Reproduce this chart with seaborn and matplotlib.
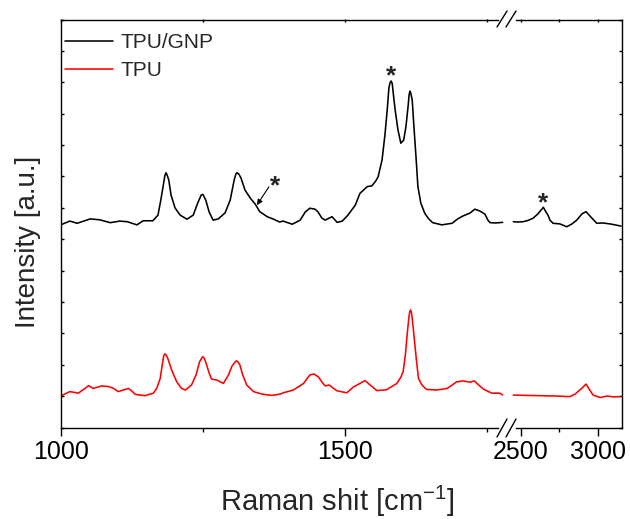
import numpy as np
import pandas as pd
import matplotlib
matplotlib.use("Agg")
import matplotlib.pyplot as plt
import seaborn as sns
from matplotlib.lines import Line2D

# ---------------- data ----------------
gnp_left_x = [1000, 1016, 1029, 1052, 1069, 1087, 1104, 1117, 1134, 1145,
              1162, 1171, 1176, 1181, 1183, 1185, 1187, 1190, 1194, 1201, 1210, 1222,
              1233, 1241, 1247, 1250, 1255, 1261, 1268, 1277, 1289, 1298,
              1305, 1308, 1310, 1313, 1317, 1324, 1333, 1342, 1350, 1363, 1373, 1385,
              1391, 1407, 1421, 1430, 1438, 1447, 1452, 1459, 1465, 1477,
              1486, 1495, 1505, 1518, 1526, 1539, 1547, 1554, 1558, 1565,
              1570, 1574, 1577, 1579, 1581, 1583, 1584, 1588, 1593, 1598, 1603, 1607,
              1611, 1612.5, 1614, 1615.5, 1618, 1621, 1625, 1628, 1633, 1640, 1647, 1654,
              1670, 1688, 1698, 1707, 1720, 1728, 1737, 1746, 1751, 1755,
              1765, 1777]
gnp_left_y = [6.46, 6.58, 6.51, 6.65, 6.62, 6.53, 6.58, 6.56, 6.46, 6.59,
              6.59, 6.77, 7.25, 7.79, 8.02, 8.12, 8.05, 7.89, 7.41, 7.00, 6.77, 6.64,
              6.77, 7.16, 7.41, 7.43, 7.25, 6.87, 6.61, 6.65, 6.84, 7.25,
              7.89, 8.08, 8.12, 8.08, 7.95, 7.57, 7.32, 7.12, 6.88, 6.72, 6.65, 6.55,
              6.58, 6.48, 6.61, 6.87, 6.99, 6.96, 6.88, 6.68, 6.61, 6.72,
              6.54, 6.58, 6.77, 7.09, 7.46, 7.68, 7.70, 7.86, 7.99, 8.53,
              9.32, 10.11, 10.82, 10.98, 11.04, 10.95, 10.76, 10.12, 9.48, 9.06, 9.16, 9.59,
              10.28, 10.6, 10.72, 10.65, 10.44, 9.59, 8.53, 7.68, 7.16, 6.83, 6.65, 6.53,
              6.46, 6.51, 6.65, 6.74, 6.84, 6.96, 6.90, 6.80, 6.61, 6.53,
              6.52, 6.54]
gnp_right_x = [2452, 2482, 2515, 2547, 2580, 2612, 2632, 2647, 2664, 2677,
               2690, 2710, 2755, 2799, 2833, 2864, 2898, 2924, 2950, 2994,
               3034, 3080, 3112, 3152]
gnp_right_y = [6.56, 6.55, 6.56, 6.60, 6.67, 6.81, 6.93, 7.02, 6.87, 6.77,
               6.61, 6.51, 6.49, 6.40, 6.49, 6.61, 6.81, 6.88, 6.74, 6.51,
               6.52, 6.49, 6.46, 6.42]

tpu_left_x = [1000, 1016, 1031, 1041, 1049, 1057, 1072, 1084, 1092, 1101,
              1110, 1119, 1125, 1131, 1148, 1163, 1169, 1175, 1179, 1181, 1183, 1185,
              1188, 1195, 1204, 1212, 1219, 1230, 1238, 1244, 1248, 1250, 1252, 1255,
              1261, 1265, 1274, 1286, 1295, 1301, 1307, 1309, 1311, 1315, 1320, 1327,
              1339, 1356, 1371, 1386, 1391, 1409, 1427, 1438, 1445, 1453,
              1459, 1465, 1472, 1485, 1503, 1514, 1524, 1535, 1544, 1556,
              1573, 1591, 1598, 1602, 1606, 1609, 1612, 1613.5, 1615, 1616.5, 1618, 1621,
              1625, 1629, 1635, 1643, 1661, 1679, 1686, 1696, 1707, 1720,
              1727, 1735, 1743, 1758, 1772, 1777]
tpu_left_y = [1.01, 1.15, 1.10, 1.23, 1.34, 1.25, 1.33, 1.31, 1.26, 1.15,
              1.20, 1.25, 1.17, 1.06, 1.02, 1.10, 1.26, 1.57, 2.06, 2.28, 2.35, 2.32,
              2.22, 1.84, 1.46, 1.26, 1.20, 1.36, 1.68, 2.09, 2.22, 2.26, 2.22, 2.09,
              1.74, 1.55, 1.52, 1.41, 1.68, 1.96, 2.10, 2.13, 2.11, 2.00, 1.68, 1.36,
              1.15, 1.06, 1.03, 1.07, 1.11, 1.20, 1.41, 1.68, 1.71, 1.62,
              1.46, 1.33, 1.36, 1.18, 1.11, 1.29, 1.39, 1.50, 1.36, 1.18,
              1.21, 1.41, 1.61, 1.78, 2.32, 2.95, 3.49, 3.68, 3.75, 3.68, 3.49, 2.95,
              2.22, 1.57, 1.36, 1.22, 1.20, 1.25, 1.33, 1.46, 1.49, 1.45,
              1.49, 1.36, 1.23, 1.10, 1.10, 1.04]
tpu_right_x = [2452, 2528, 2625, 2723, 2820, 2853, 2872, 2898, 2924, 2944,
               2970, 3016, 3061, 3100, 3145]
tpu_right_y = [1.04, 1.03, 1.02, 1.01, 0.99, 1.07, 1.15, 1.26, 1.39, 1.23,
               1.04, 0.96, 1.01, 0.98, 0.99]

series_labels = ["TPU/GNP", "TPU"]
series_colors = ["black", "#ff0000"]
left_major = [1000, 1500]
left_minor = [1250, 1750]
right_major = [2500, 3000]
right_minor = [2750]
star_x = [1581, 1377, 2647]
star_y = [10.98, 7.47, 6.93]

# ---------------- style ----------------
sns.set_theme(style="ticks")
plt.rcParams["font.family"] = ["Liberation Sans", "DejaVu Sans"]
plt.rcParams["mathtext.default"] = "regular"
plt.rcParams["axes.edgecolor"] = "black"
plt.rcParams["xtick.color"] = "black"
plt.rcParams["ytick.color"] = "black"

W, H = 630, 519
fig = plt.figure(figsize=(6.3, 5.19), dpi=100, facecolor="white")

def fx(px):
    return px / W

def fy(py):
    return 1 - py / H

top, bot = 19.5, 427.7
left, brk, right = 60.7, 508.0, 621.7
ax1 = fig.add_axes([fx(left), fy(bot), fx(brk) - fx(left), fy(top) - fy(bot)])
ax2 = fig.add_axes([fx(brk), fy(bot), fx(right) - fx(brk), fy(top) - fy(bot)])

lw = 1.15
df_l = pd.concat([
    pd.DataFrame({"x": gnp_left_x, "y": gnp_left_y, "s": series_labels[0]}),
    pd.DataFrame({"x": tpu_left_x, "y": tpu_left_y, "s": series_labels[1]}),
])
df_r = pd.concat([
    pd.DataFrame({"x": gnp_right_x, "y": gnp_right_y, "s": series_labels[0]}),
    pd.DataFrame({"x": tpu_right_x, "y": tpu_right_y, "s": series_labels[1]}),
])
pal = dict(zip(series_labels, series_colors))
for ax, df in ((ax1, df_l), (ax2, df_r)):
    sns.lineplot(data=df, x="x", y="y", hue="s", palette=pal, sort=False,
                 estimator=None, lw=lw, ax=ax, legend=False)
    ax.set_facecolor("white")
    ax.set_ylim(0, 13)
    ax.set_xlabel("")
    ax.set_ylabel("")
    ax.set_yticks(np.arange(0, 14))
    ax.set_yticklabels([])
    for s in ax.spines.values():
        s.set_linewidth(1.0)
        s.set_color("black")

ax1.set_xlim(1000, 1786.4)
ax2.set_xlim(2417.5, 3155.9)
ax1.spines["right"].set_visible(False)
ax2.spines["left"].set_visible(False)
for sp in ("top", "bottom"):
    ax1.spines[sp].set_bounds(1000, 1769)
    ax2.spines[sp].set_bounds(2470, 3155.9)

ax1.set_xticks(left_major)
ax1.set_xticks(left_minor, minor=True)
ax2.set_xticks(right_major)
ax2.set_xticks(right_minor, minor=True)
for ax in (ax1, ax2):
    ax.tick_params(axis="x", which="major", direction="out", length=5.5,
                   width=1.0, labelsize=18, pad=3.5)
    ax.tick_params(axis="x", which="minor", direction="out", length=3,
                   width=1.0)
    sec = ax.secondary_xaxis("top")
    sec.set_xticks(ax.get_xticks())
    sec.set_xticks(ax.get_xticks(minor=True), minor=True)
    sec.tick_params(axis="x", which="both", direction="in", length=2.2,
                    width=1.0, labeltop=False)
    for s in sec.spines.values():
        s.set_visible(False)
ax1.tick_params(axis="y", which="both", direction="in", length=2.2, width=1.0,
                left=True, right=False)
ax2.tick_params(axis="y", which="both", direction="in", length=2.2, width=1.0,
                left=False, right=True, labelleft=False, labelright=False)

# axis break marks
for (x0, y0, x1, y1) in [(497, 27, 507, 11), (506, 27, 516, 11),
                         (497, 437, 507, 419), (506, 437, 516, 419)]:
    fig.add_artist(Line2D([fx(x0), fx(x1)], [fy(y0), fy(y1)],
                          color="black", lw=1.0, transform=fig.transFigure))

# asterisks
ax1.text(star_x[0], star_y[0], "*", ha="center", va="baseline",
         fontsize=19, fontweight="bold")
ax1.text(star_x[1], star_y[1], "*", ha="center", va="baseline",
         fontsize=19, fontweight="bold")
ax2.text(star_x[2], star_y[2], "*", ha="center", va="baseline",
         fontsize=19, fontweight="bold")
ax1.annotate("", xy=(1345, 7.09), xytext=(1366, 7.67),
             arrowprops=dict(arrowstyle="-|>", color="black", lw=0.8,
                             mutation_scale=8, shrinkA=0, shrinkB=0))

# legend
handles = [Line2D([], [], color=c, lw=lw) for c in series_colors]
ax1.legend(handles, series_labels, loc="upper left",
           bbox_to_anchor=(fx(65), fy(33)), bbox_transform=fig.transFigure,
           frameon=False, fontsize=15, handlelength=2.3, handletextpad=0.35,
           labelspacing=0.45, borderpad=0, borderaxespad=0)

# axis labels
fig.text(fx(337), fy(511), "Raman shit [cm$^{-1}$]", ha="center",
         va="baseline", fontsize=21)
fig.text(fx(41), fy(242), "Intensity [a.u.]", rotation=90, ha="right",
         va="center", fontsize=20)

fig.savefig("out.png", dpi=100, facecolor="white")
